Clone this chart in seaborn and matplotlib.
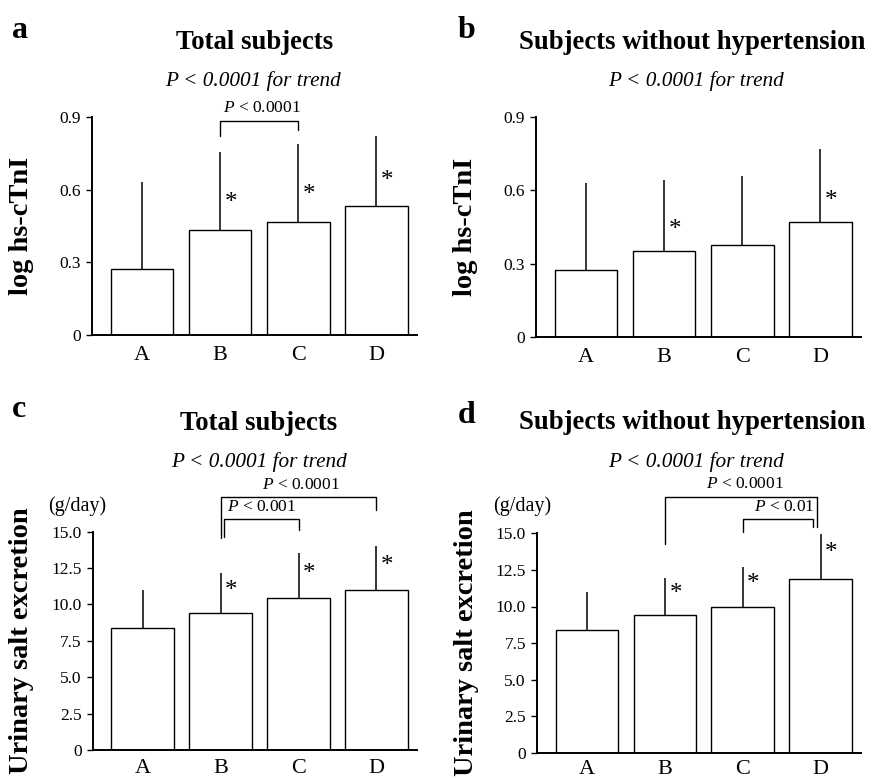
import numpy as np
import pandas as pd
import matplotlib
matplotlib.use("Agg")
import matplotlib.pyplot as plt
import seaborn as sns

# ---------------- data ----------------
groups = ["A", "B", "C", "D"]

a_mean = [0.272, 0.434, 0.467, 0.533]
a_sd = [0.361, 0.320, 0.322, 0.289]
a_sig = [False, True, True, True]

b_mean = [0.274, 0.353, 0.376, 0.469]
b_sd = [0.357, 0.289, 0.283, 0.300]
b_sig = [False, True, False, True]

c_mean = [8.40, 9.43, 10.46, 10.99]
c_sd = [2.59, 2.71, 3.05, 3.01]
c_sig = [False, True, True, True]

d_mean = [8.39, 9.40, 9.97, 11.90]
d_sd = [2.62, 2.53, 2.71, 3.06]
d_sig = [False, True, True, True]

hs_ticks = [0, 0.3, 0.6, 0.9]
hs_ticklabels = ["0", "0.3", "0.6", "0.9"]
salt_ticks = [0, 2.5, 5.0, 7.5, 10.0, 12.5, 15.0]
salt_ticklabels = ["0", "2.5", "5.0", "7.5", "10.0", "12.5", "15.0"]

title_total = "Total subjects"
title_nohtn = "Subjects without hypertension"
trend_text = "P < 0.0001 for trend"
ylabel_hs = "log hs-cTnI"
ylabel_salt = "Urinary salt excretion"
unit_salt = "(g/day)"

# ---------------- style ----------------
sns.set_style("ticks")
plt.rcParams["font.family"] = ["Liberation Serif", "DejaVu Serif"]
plt.rcParams["mathtext.fontset"] = "custom"
plt.rcParams["mathtext.rm"] = "Liberation Serif"
plt.rcParams["mathtext.it"] = "Liberation Serif:italic"
plt.rcParams["mathtext.bf"] = "Liberation Serif:bold"
plt.rcParams["text.color"] = "black"
plt.rcParams["axes.labelcolor"] = "black"
plt.rcParams["xtick.color"] = "black"
plt.rcParams["ytick.color"] = "black"

W, H = 872, 778
fig = plt.figure(figsize=(W / 100, H / 100), dpi=100)


def fx(x):
    return x / W


def fy(y):
    return 1 - y / H


def make_panel(rect, means, sds, sig, ylim, ticks, ticklabels, ylabel,
               star_frac, brackets, xpad):
    ax = fig.add_axes(rect)
    df = pd.DataFrame({"group": groups, "value": means})
    sns.barplot(data=df, x="group", y="value", color="white", saturation=1,
                edgecolor="black", linewidth=1.0, width=0.8, errorbar=None,
                ax=ax)
    xs = np.arange(len(groups))
    tops = np.array(means) + np.array(sds)
    ax.vlines(xs, means, tops, color="black", lw=1.1, zorder=3)
    for i, s in enumerate(sig):
        if s:
            ax.text(xs[i] + 0.14, means[i] + star_frac * sds[i], "*",
                    ha="center", va="center", fontsize=18, color="black")
    for (i, j, y, yl, yr, label, dl, dr) in brackets:
        ax.plot([xs[i] + dl, xs[i] + dl, xs[j] + dr, xs[j] + dr],
                [yl, y, y, yr], color="black", lw=1.0, clip_on=False)
        ax.text((xs[i] + xs[j]) / 2 + 0.03, y + (ylim[1]) * 0.022,
                "$P$ < " + label, ha="center", va="bottom", fontsize=12.5)
    ax.set_xlim(-0.64, 3.52)
    ax.set_ylim(*ylim)
    ax.set_yticks(ticks)
    ax.set_yticklabels(ticklabels)
    ax.tick_params(axis="y", length=4, width=1, direction="out",
                   labelsize=12.5, pad=4, colors="black")
    ax.tick_params(axis="x", length=0, labelsize=16, pad=xpad, colors="black")
    ax.set_xlabel("")
    ax.set_ylabel(ylabel, fontsize=20.5, fontweight="bold")
    ax.yaxis.set_label_coords(-0.18, 0.5)
    sns.despine(ax=ax)
    for sp in ("left", "bottom"):
        ax.spines[sp].set_linewidth(1.4)
        ax.spines[sp].set_color("black")
    return ax


# panel a
make_panel([fx(92), fy(335), fx(325), 218 / H], a_mean, a_sd, a_sig,
           (0, 0.9), hs_ticks, hs_ticklabels, ylabel_hs, 0.35,
           [(1, 2, 0.883, 0.82, 0.845, "0.0001", 0.0, 0.0)], 8)
# panel b
make_panel([fx(536), fy(337), fx(325), 220 / H], b_mean, b_sd, b_sig,
           (0, 0.9), hs_ticks, hs_ticklabels, ylabel_hs, 0.29, [], 8)
# panel c
make_panel([fx(92.7), fy(750), fx(324.3), 218.3 / H], c_mean, c_sd, c_sig,
           (0, 15), salt_ticks, salt_ticklabels, ylabel_salt, 0.54,
           [(1, 2, 15.85, 14.65, 15.1, "0.001", 0.04, 0.0),
            (1, 3, 17.35, 14.6, 16.5, "0.0001", 0.0, 0.0)], 6.5)
# panel d
make_panel([fx(537), fy(752.7), fx(324), 219.3 / H], d_mean, d_sd, d_sig,
           (0, 15), salt_ticks, salt_ticklabels, ylabel_salt, 0.58,
           [(2, 3, 15.96, 15.1, 15.46, "0.01", 0.0, -0.09),
            (1, 3, 17.47, 14.27, 15.46, "0.0001", 0.0, -0.05)], 5.5)

# titles, subtitles, panel letters, units
for (x, y, s) in [(254.5, 49.3, title_total), (692, 49.3, title_nohtn),
                  (259, 430, title_total), (692, 429.3, title_nohtn)]:
    fig.text(fx(x), fy(y), s, ha="center", va="baseline", fontsize=19.3,
             fontweight="bold")
for (x, y) in [(252.5, 86), (695.5, 86), (259, 466.7), (695.5, 466.7)]:
    fig.text(fx(x), fy(y), trend_text, ha="center", va="baseline",
             fontsize=15.3, fontstyle="italic")
for (x, y, s) in [(11.7, 38.3, "a"), (457.7, 38.3, "b"),
                  (12, 416.7, "c"), (457.7, 423.3, "d")]:
    fig.text(fx(x), fy(y), s, ha="left", va="baseline", fontsize=23,
             fontweight="bold")
for (x, y) in [(77, 510.7), (522, 510.7)]:
    fig.text(fx(x), fy(y), unit_salt, ha="center", va="baseline",
             fontsize=14.5)

fig.savefig("out.png", dpi=100)
